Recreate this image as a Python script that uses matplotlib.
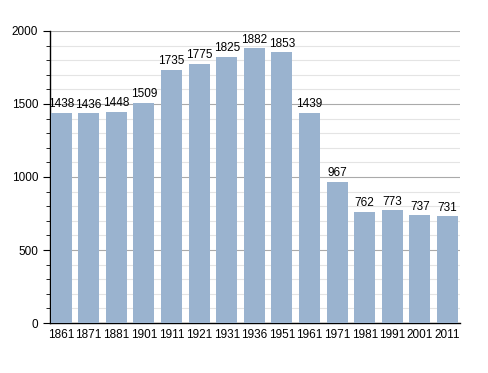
import numpy as np
import matplotlib
matplotlib.use("Agg")
from matplotlib import pyplot as plt
from matplotlib.ticker import MultipleLocator

plt.rcParams['font.family'] = ['Liberation Sans', 'DejaVu Sans']

years = ["1861", "1871", "1881", "1901", "1911", "1921", "1931", "1936",
         "1951", "1961", "1971", "1981", "1991", "2001", "2011"]
population = [1438, 1436, 1448, 1509, 1735, 1775, 1825, 1882,
              1853, 1439, 967, 762, 773, 737, 731]

fig = plt.figure(figsize=(4.88, 3.73), dpi=100)
ax = fig.add_axes([0.1025, 0.134, 0.84, 0.783])

x = np.arange(len(years))
ax.bar(x, population, width=0.76, color="#9ab3cf", zorder=3)

for xi, v in zip(x, population):
    ax.text(xi, v + 18, str(v), ha="center", va="bottom", fontsize=8.5, zorder=4)

ax.set_ylim(0, 2000)
ax.set_xlim(-0.4, len(years) - 0.55)
ax.yaxis.set_major_locator(MultipleLocator(500))
ax.yaxis.set_minor_locator(MultipleLocator(100))
ax.grid(axis="y", which="major", color="#aaaaaa", linewidth=0.8, zorder=0)
ax.grid(axis="y", which="minor", color="#e4e4e4", linewidth=0.8, zorder=0)

ax.set_xticks(x)
ax.set_xticklabels(years)
ax.tick_params(axis="x", length=0, labelsize=8.5, pad=4.5)
ax.tick_params(axis="y", which="major", length=5, labelsize=8.5, direction="out")
ax.tick_params(axis="y", which="minor", length=3, direction="out")

for s in ["top", "right"]:
    ax.spines[s].set_visible(False)
ax.spines["left"].set_linewidth(1.0)
ax.spines["bottom"].set_linewidth(1.0)

fig.savefig("out.png", dpi=100)
